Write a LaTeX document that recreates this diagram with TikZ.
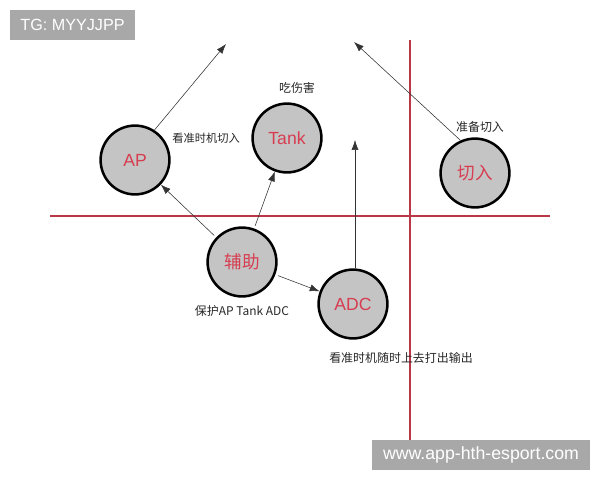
\documentclass[tikz,border=0pt]{standalone}
\usepackage{fontspec}
\setmainfont{Liberation Sans}
\newfontfamily\cjk{Noto Sans CJK SC}
\usetikzlibrary{arrows.meta}
\definecolor{lanered}{RGB}{185,55,70}
\definecolor{rolered}{RGB}{215,60,80}
\definecolor{rolegray}{RGB}{196,196,196}
\definecolor{tagbg}{RGB}{168,168,168}
\tikzset{
  role/.style={circle, draw=black, line width=1.8pt, fill=rolegray, minimum size=1.72cm,
    inner sep=0pt, text=rolered, font=\fontsize{12.5}{13}\selectfont},
  note/.style={font=\cjk\fontsize{8.5}{10}\selectfont, text=black!85},
  move/.style={-{Latex[length=7pt,width=5pt]}, thin, black!80},
  lane/.style={line width=2pt, lanered},
  tag/.style={fill=tagbg, text=white, inner sep=0pt}
}

\begin{document}
\begin{tikzpicture}[x=0.025cm, y=-0.025cm]
  %%%%% START %%%%%
  \useasboundingbox (0, 0) rectangle (600, 480);

  % lanes
  \draw[lane] (50, 216) -- (550, 216);
  \draw[lane] (410, 40) -- (410, 440);

  % roles
  \node[role] (ap) at (135, 160) {AP};
  \node[role] (tank) at (287, 138) {Tank};
  \node[role] (cut) at (475, 173) {\cjk 切入};
  \node[role] (sup) at (242, 262) {\cjk 辅助};
  \node[role] (adc) at (353, 304) {ADC};

  \coordinate (apgo) at (226, 44);
  \coordinate (cutgo) at (354, 42);
  \coordinate (adcgo) at (355, 140);

  % moves
  \draw[move] (ap.57) -- (apgo);
  \draw[move] (cut.114) -- (cutgo);
  \draw[move] (adc.north -| adcgo) -- (adcgo);
  \draw[move, shorten <=2pt] (sup) -- (ap);
  \draw[move, shorten <=2pt] (sup) -- (tank);
  \draw[move, shorten <=2pt] (sup) -- (adc);

  % notes
  \node[note] (eat) at (297, 88) {吃伤害};
  \node[note, font=\cjk\fontsize{8}{10}\selectfont] (apnote) at (206, 138) {看准时机切入};
  \node[note] (cutnote) at (480, 127) {准备切入};
  \node[note] (supnote) at (242, 311) {保护AP Tank ADC};
  \node[note] (adcnote) at (401, 358) {看准时机随时上去打出输出};

  % tags
  \node[tag, minimum width=3.125cm, minimum height=0.75cm, font=\fontsize{11.5}{12}\selectfont]
    (tg) at (72.5, 25) {TG: MYYJJPP};
  \node[tag, minimum width=5.45cm, minimum height=0.75cm, font=\fontsize{12.6}{13}\selectfont]
    (site) at (481, 455) {www.app-hth-esport.com};
  %%%%% END %%%%%
\end{tikzpicture}
\end{document}
